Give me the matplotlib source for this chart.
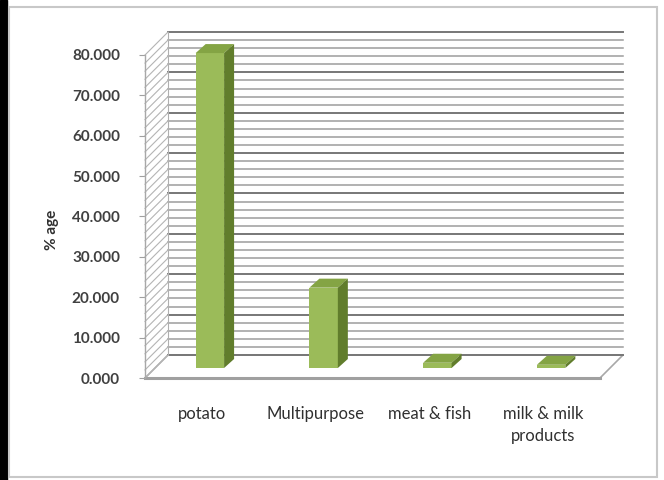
import matplotlib.pyplot as plt
from matplotlib.patches import Polygon, Rectangle
import numpy as np

# data
categories = ['potato', 'Multipurpose', 'meat & fish', 'milk & milk\nproducts']
values = [78.0, 19.9, 1.3, 0.8]
yticks = [0, 10, 20, 30, 40, 50, 60, 70, 80]

plt.rcParams['font.family'] = ['Lato', 'DejaVu Sans']

W, H = 664, 480
fig = plt.figure(figsize=(W / 100, H / 100), dpi=100)

# frame of the picture
fig.patches.append(Rectangle((0, 0), 7 / W, 1, transform=fig.transFigure,
                             color='black', zorder=-5))
fig.patches.append(Rectangle((9 / W, 3 / H), 648 / W, 470 / H, transform=fig.transFigure,
                             facecolor='white', edgecolor='#c8c8c8', lw=1.5, zorder=-5))

# front plane of the 3d box (pixels)
left, right, top, bottom = 145, 600, 55, 378
ax = fig.add_axes([left / W, (H - bottom) / H, (right - left) / W, (bottom - top) / H])
ax.set_zorder(2)
ax.set_xlim(-0.5, 3.5)
ax.set_ylim(0, 80)
ax.patch.set_visible(False)

px_x = (right - left) / 4.0
px_y = (bottom - top) / 80.0
# depth of the box and of the bars, in data units
dx, dy = 23 / px_x, 23 / px_y
bfx, bfy = 8 / px_x, 10 / px_y
bdx, bdy = 10 / px_x, 9 / px_y

x0, x1 = -0.5, 3.5
# floor
ax.add_patch(Polygon([(x0, 0), (x1, 0), (x1 + dx, dy), (x0 + dx, dy)], closed=True,
                     facecolor='white', edgecolor='#a8a8a8', lw=1.2, clip_on=False, zorder=1))
ax.plot([x0, x1], [0, 0], color='#a0a0a0', lw=2.2, clip_on=False, zorder=1.5)

# back wall and side wall grid
for v in np.arange(0, 81, 2):
    major = v % 10 == 0
    ax.plot([x0 + dx, x1 + dx], [v + dy, v + dy], color='#777777' if major else '#9c9c9c',
            lw=1.4 if major else 1.1, clip_on=False, zorder=2)
    ax.plot([x0, x0 + dx], [v, v + dy], color='#b4b4b4', lw=0.8, clip_on=False, zorder=2)
ax.plot([x0 + dx, x0 + dx], [dy, 80 + dy], color='#b0b0b0', lw=0.8, clip_on=False, zorder=2)

# bars
xs = np.arange(len(categories))
bars = ax.bar(xs + bfx, values, width=0.25, bottom=bfy, color='#9bbb59', zorder=5, clip_on=False)
for b in bars:
    bx0 = b.get_x()
    bx1 = bx0 + b.get_width()
    by0 = b.get_y()
    by1 = by0 + b.get_height()
    ax.add_patch(Polygon([(bx0, by1), (bx1, by1), (bx1 + bdx, by1 + bdy), (bx0 + bdx, by1 + bdy)],
                         closed=True, facecolor='#84a444', edgecolor='none', zorder=5, clip_on=False))
    ax.add_patch(Polygon([(bx1, by0), (bx1, by1), (bx1 + bdx, by1 + bdy), (bx1 + bdx, by0 + bdy)],
                         closed=True, facecolor='#617d2c', edgecolor='none', zorder=5, clip_on=False))

# axes styling
for s in ['top', 'right', 'bottom']:
    ax.spines[s].set_visible(False)
ax.spines['left'].set_color('#a8a8a8')
ax.spines['left'].set_linewidth(1.0)
ax.set_yticks(yticks)
ax.set_yticklabels(['%.3f' % t for t in yticks])
ax.tick_params(axis='y', direction='out', length=4, color='#a0a0a0', pad=14,
               labelsize=11, labelcolor='#404040')
for t in ax.get_yticklabels():
    t.set_fontweight('bold')
ax.set_xticks(xs)
ax.set_xticklabels(categories, va='top', linespacing=1.5)
ax.tick_params(axis='x', length=0, pad=20, labelsize=12, labelcolor='#303030')

fig.text(52 / W, (H - 230) / H, '% age', rotation=90, ha='center', va='center',
         fontsize=11, fontweight='bold', color='#303030')

fig.savefig('out.png', dpi=100)
